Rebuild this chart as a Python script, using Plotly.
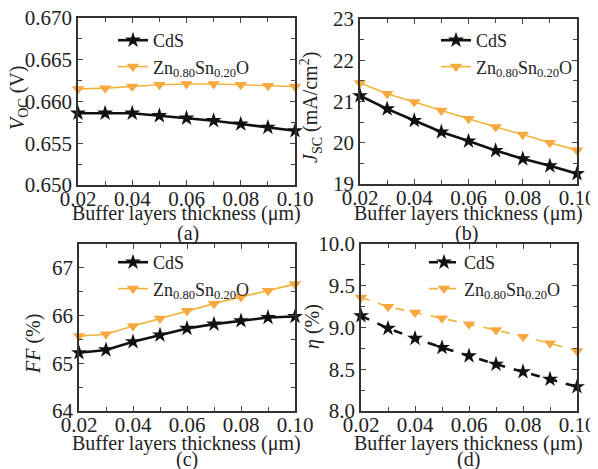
import plotly.graph_objects as go

thickness = [0.02, 0.03, 0.04, 0.05, 0.06, 0.07, 0.08, 0.09, 0.10]

voc_cds = [0.6586, 0.6586, 0.6586, 0.6583, 0.6580, 0.6577, 0.6573, 0.6569, 0.6565]
voc_zto = [0.6615, 0.6616, 0.6618, 0.6620, 0.6621, 0.6621, 0.6620, 0.6619, 0.6618]

jsc_cds = [21.14, 20.82, 20.54, 20.26, 20.04, 19.81, 19.61, 19.44, 19.25]
jsc_zto = [21.45, 21.19, 20.99, 20.78, 20.58, 20.38, 20.20, 20.00, 19.82]

ff_cds = [65.22, 65.28, 65.45, 65.59, 65.73, 65.82, 65.89, 65.96, 65.98]
ff_zto = [65.57, 65.61, 65.78, 65.94, 66.10, 66.25, 66.39, 66.52, 66.66]

eta_cds = [9.14, 8.99, 8.87, 8.76, 8.66, 8.56, 8.47, 8.38, 8.29]
eta_zto = [9.36, 9.25, 9.18, 9.11, 9.04, 8.97, 8.89, 8.81, 8.72]

names = ["CdS", "Zn<sub>0.80</sub>Sn<sub>0.20</sub>O"]
y_titles = ["<i>V</i><sub>OC</sub> (V)", "<i>J</i><sub>SC</sub> (mA/cm<sup>2</sup>)",
            "<i>FF</i> (%)", "<i>η</i> (%)"]
panel_tags = ["(a)", "(b)", "(c)", "(d)"]
x_title = "Buffer layers thickness (μm)"

# the page body adds an 8px margin; layout coordinates below are in window pixels
OFF = 8
W, H = 598 - OFF, 469 - OFF
FONT = "Liberation Serif"
TXT = "#222222"
BLACK = "#111111"
ORANGE_M = "#F7A941"
ORANGE_L = "#F0B43A"


def px(x):
    return (x - OFF) / W


def py(y):
    return 1 - (y - OFF) / H


# panel frames in window pixels: (left, right, top, bottom)
frames = [(78, 295, 18, 185), (360, 577, 19, 184), (79, 295, 244, 411), (361, 577, 244, 411)]
yranges = [[0.650, 0.670], [19, 23], [64, 67.5], [8.0, 10.0]]
ydticks = [0.005, 1, 1, 0.5]
yfmt = [".3f", "d", "d", ".1f"]
data = [(voc_cds, voc_zto), (jsc_cds, jsc_zto), (ff_cds, ff_zto), (eta_cds, eta_zto)]
dashes = ["solid", "solid", "solid", "dash"]
legend_pos = [(113, 22), (436, 22), (113, 244), (424, 244)]
ytitle_pos = [(19, 98), (311, 108), (33, 344), (312, 327)]
xtitle_pos = [(186, 213), (468, 213), (186, 443), (468, 443)]
tag_pos = [(188, 234), (466, 234), (187, 459), (468, 459)]

fig = go.Figure()
annotations = []
for i in range(4):
    ax = "" if i == 0 else str(i + 1)
    lg = "legend" if i == 0 else "legend" + str(i + 1)
    cds, zto = data[i]
    fig.add_trace(go.Scatter(
        x=thickness, y=cds, name=names[0], mode="lines+markers",
        line=dict(color=BLACK, width=2.6, dash=dashes[i]),
        marker=dict(symbol="star", size=12, color=BLACK),
        xaxis="x" + ax, yaxis="y" + ax, legend=lg, cliponaxis=False))
    fig.add_trace(go.Scatter(
        x=thickness, y=zto, name=names[1], mode="lines+markers",
        line=dict(color=ORANGE_L, width=1.6, dash=dashes[i]),
        marker=dict(symbol="triangle-down", size=11, color=ORANGE_M),
        xaxis="x" + ax, yaxis="y" + ax, legend=lg, cliponaxis=False))

    l, r, t, b = frames[i]
    common = dict(showline=True, linecolor="#333333", linewidth=1.5, mirror="allticks",
                  ticks="inside", ticklen=5, tickwidth=1.2, tickcolor="#444444",
                  showgrid=False, zeroline=False, automargin=False,
                  ticklabeloverflow="allow",
                  tickfont=dict(family=FONT, size=21, color=TXT))
    fig.update_layout(**{
        "xaxis" + ax: dict(domain=[px(l), px(r)], range=[0.02, 0.10], dtick=0.02, tick0=0.02,
                           tickformat=".2f", anchor="y" + ax, ticklabelstandoff=-6,
                           minor=dict(dtick=0.01, ticks="inside", ticklen=4, tickcolor="#444444"),
                           **common),
        "yaxis" + ax: dict(domain=[py(b), py(t)], range=yranges[i], dtick=ydticks[i],
                           tick0=yranges[i][0], tickformat=yfmt[i], anchor="x" + ax,
                           minor=dict(dtick=ydticks[i] / 2, ticks="inside", ticklen=4,
                                      tickcolor="#444444"),
                           **common),
        lg: dict(x=px(legend_pos[i][0]), y=py(legend_pos[i][1]), xanchor="left",
                 yanchor="top", bgcolor="rgba(0,0,0,0)", tracegroupgap=0,
                 font=dict(family=FONT, size=18, color=TXT), itemwidth=30),
    })
    annotations.append(dict(text=y_titles[i], x=px(ytitle_pos[i][0]), y=py(ytitle_pos[i][1]),
                            xref="paper", yref="paper", xanchor="center", yanchor="middle",
                            showarrow=False, textangle=-90,
                            font=dict(family=FONT, size=20, color=TXT)))
    annotations.append(dict(text=x_title, x=px(xtitle_pos[i][0]), y=py(xtitle_pos[i][1]),
                            xref="paper", yref="paper", xanchor="center", yanchor="middle",
                            showarrow=False, font=dict(family=FONT, size=20, color=TXT)))
    annotations.append(dict(text=panel_tags[i], x=px(tag_pos[i][0]), y=py(tag_pos[i][1]),
                            xref="paper", yref="paper", xanchor="center", yanchor="middle",
                            showarrow=False, font=dict(family=FONT, size=20, color=TXT)))

fig.update_layout(template="none", width=W, height=H, margin=dict(l=0, r=0, t=0, b=0, pad=0),
                  font=dict(family=FONT, size=20, color=TXT),
                  paper_bgcolor="white", plot_bgcolor="white",
                  annotations=annotations, showlegend=True)
fig.write_html("out.html")
